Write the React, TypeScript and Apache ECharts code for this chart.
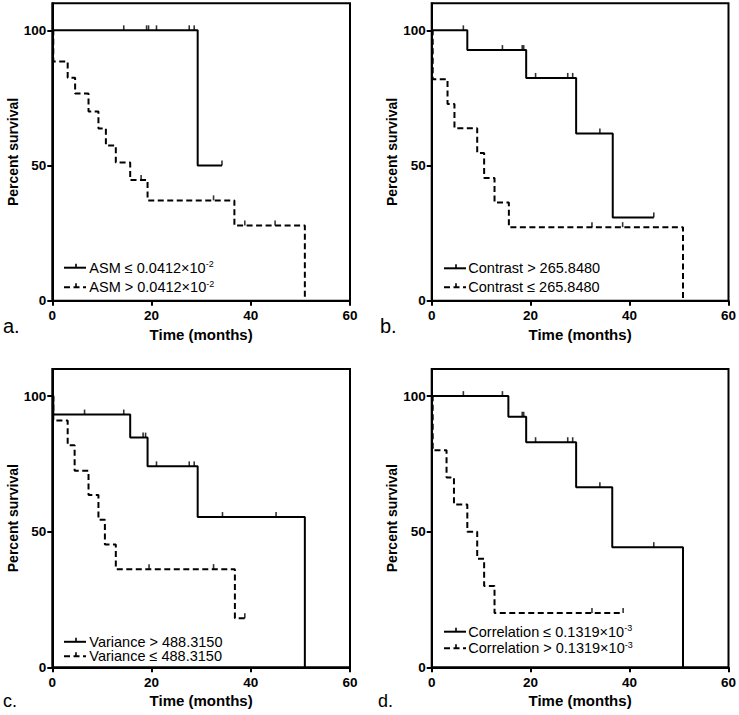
import React, { useEffect, useRef } from 'react';
import * as echarts from 'echarts';

// ---- Data (months, percent survival) ----
const xTicks = [0, 20, 40, 60];
const yTicks = [0, 50, 100];

// Panel a: ASM
const aLowT = [0, 29.3, 34.2];
const aLowS = [100, 50, 50];
const aLowCensor = [14.4, 19.0, 19.4, 21.0, 27.6, 28.6, 34.2];
const aHighT = [0, 0.2, 3.1, 4.6, 7.3, 9.3, 10.8, 12.8, 15.7, 19.2, 36.7, 50.9];
const aHighS = [100, 88.5, 82.5, 76.6, 70.0, 63.7, 57.4, 51.1, 44.6, 37.1, 27.8, 0];
const aHighCensor = [17.9, 32.5, 38.8, 44.9];

// Panel b: Contrast
const bHighT = [0, 7.2, 19.1, 29.2, 36.6, 44.9];
const bHighS = [100, 92.7, 82.4, 61.8, 30.8, 30.8];
const bHighCensor = [6.4, 14.3, 18.3, 18.6, 21.0, 27.5, 28.5, 34.0, 44.9];
const bLowT = [0, 0.2, 3.2, 4.6, 9.2, 10.6, 12.7, 15.6, 50.8];
const bLowS = [100, 81.9, 72.8, 63.8, 54.6, 45.4, 36.3, 27.2, 0];
const bLowCensor = [32.4, 38.6];

// Panel c: Variance
const cHighT = [0, 0.2, 15.7, 19.2, 29.3, 50.9];
const cHighS = [100, 93.2, 84.7, 74.1, 55.4, 0];
const cHighCensor = [6.5, 14.4, 18.3, 18.8, 21.0, 27.6, 28.6, 34.3, 45.1];
const cLowT = [0, 0.2, 3.1, 4.5, 7.3, 9.3, 10.6, 12.8, 36.8, 38.8];
const cLowS = [100, 91.0, 81.9, 72.5, 63.5, 54.4, 45.3, 36.2, 18.1, 18.1];
const cLowCensor = [19.5, 32.5, 38.8];

// Panel d: Correlation
const dLowT = [0, 15.5, 19.1, 29.2, 36.5, 50.8];
const dLowS = [100, 92.4, 83.0, 66.4, 44.3, 0];
const dLowCensor = [6.4, 14.3, 18.3, 18.6, 21.0, 27.5, 28.5, 34.0, 44.9];
const dHighT = [0, 0.2, 3.0, 4.5, 7.2, 9.2, 10.6, 12.7, 38.7];
const dHighS = [100, 80, 70, 60, 50, 40, 30, 20, 20];
const dHighCensor = [32.4, 38.7];

const legendA = ['{m|ASM ≤ 0.0412×10}{s|-2}', '{m|ASM > 0.0412×10}{s|-2}'];
const legendB = ['{m|Contrast > 265.8480}', '{m|Contrast ≤ 265.8480}'];
const legendC = ['{m|Variance > 488.3150}', '{m|Variance ≤ 488.3150}'];
const legendD = ['{m|Correlation ≤ 0.1319×10}{s|-3}', '{m|Correlation > 0.1319×10}{s|-3}'];
const panelLabels = ['a.', 'b.', 'c.', 'd.'];

// ---- Layout / style ----
const FONT = "'Liberation Sans', Arial, sans-serif";
const DASH = [6, 3.5];

const panels = [
  {
    grid: { left: 52.3, top: 3.3, width: 297.7, height: 297.4 },
    curves: [
      { t: aLowT, s: aLowS, c: aLowCensor, dash: false },
      { t: aHighT, s: aHighS, c: aHighCensor, dash: true },
    ],
    legend: legendA, lx: 64, ly: [267.7, 287.3], tx: 89.3, lh: 16,
    label: { x: 3, y: 326, size: 20 },
  },
  {
    grid: { left: 431.7, top: 3.3, width: 298.3, height: 297.4 },
    curves: [
      { t: bHighT, s: bHighS, c: bHighCensor, dash: false },
      { t: bLowT, s: bLowS, c: bLowCensor, dash: true },
    ],
    legend: legendB, lx: 444, ly: [268.3, 287.3], tx: 468.3, lh: 13,
    label: { x: 380, y: 326, size: 20 },
  },
  {
    grid: { left: 52.3, top: 369, width: 297.7, height: 298.3 },
    curves: [
      { t: cHighT, s: cHighS, c: cHighCensor, dash: false },
      { t: cLowT, s: cLowS, c: cLowCensor, dash: true },
    ],
    legend: legendC, lx: 64, ly: [641.8, 656.3], tx: 89.3, lh: 13,
    label: { x: 3, y: 701, size: 18 },
  },
  {
    grid: { left: 431.7, top: 369, width: 298.3, height: 298.3 },
    curves: [
      { t: dLowT, s: dLowS, c: dLowCensor, dash: false },
      { t: dHighT, s: dHighS, c: dHighCensor, dash: true },
    ],
    legend: legendD, lx: 444, ly: [631.7, 648.3], tx: 468.3, lh: 16,
    label: { x: 378, y: 701, size: 18 },
  },
];

function survAt(t: number[], s: number[], x: number): number {
  let v = s[0];
  for (let i = 0; i < t.length; i++) {
    if (t[i] <= x) v = s[i];
  }
  return v;
}

function buildOption() {
  const grids: any[] = [];
  const xAxes: any[] = [];
  const yAxes: any[] = [];
  const series: any[] = [];
  const graphics: any[] = [];

  panels.forEach((p, i) => {
    grids.push({
      ...p.grid,
      show: true,
      borderColor: '#000',
      borderWidth: 2,
      backgroundColor: 'transparent',
      containLabel: false,
    });
    xAxes.push({
      gridIndex: i,
      type: 'value',
      min: xTicks[0],
      max: xTicks[xTicks.length - 1],
      interval: xTicks[1] - xTicks[0],
      name: 'Time (months)',
      nameLocation: 'middle',
      nameGap: 26,
      nameTextStyle: { fontFamily: FONT, fontWeight: 'bold', fontSize: 15, color: '#000' },
      axisLine: { lineStyle: { color: '#000', width: 2 } },
      axisTick: { length: 5, lineStyle: { color: '#000', width: 2 } },
      axisLabel: { fontFamily: FONT, fontWeight: 'bold', fontSize: 13.5, color: '#000', margin: 8 },
      splitLine: { show: false },
    });
    yAxes.push({
      gridIndex: i,
      type: 'value',
      min: 0,
      max: 110,
      interval: 50,
      name: 'Percent survival',
      nameLocation: 'middle',
      nameGap: 26,
      nameTextStyle: { fontFamily: FONT, fontWeight: 'bold', fontSize: 14, color: '#000' },
      axisLine: { lineStyle: { color: '#000', width: 2 } },
      axisTick: { length: 5, customValues: yTicks, lineStyle: { color: '#000', width: 2 } },
      axisLabel: {
        customValues: yTicks,
        fontFamily: FONT, fontWeight: 'bold', fontSize: 13.5, color: '#000', margin: 6,
      },
      splitLine: { show: false },
    });

    p.curves.forEach((cv) => {
      series.push({
        type: 'line',
        xAxisIndex: i,
        yAxisIndex: i,
        step: 'end',
        symbol: 'none',
        silent: true,
        lineStyle: { color: '#000', width: 2, type: cv.dash ? DASH : 'solid' },
        data: cv.t.map((t, k) => [t, cv.s[k]]),
        z: 3,
      });
      series.push({
        type: 'scatter',
        xAxisIndex: i,
        yAxisIndex: i,
        symbol: 'rect',
        symbolSize: [1.6, 5],
        symbolOffset: [0, -2.5],
        silent: true,
        itemStyle: { color: '#000' },
        data: cv.c.map((t) => [t, survAt(cv.t, cv.s, t)]),
        z: 4,
      });
    });

    // legend
    p.legend.forEach((txt, r) => {
      const y = p.ly[r];
      const dashed = r === 1;
      graphics.push({
        type: 'line',
        shape: { x1: p.lx, y1: y, x2: p.lx + 22, y2: y },
        style: { stroke: '#000', lineWidth: 2, lineDash: dashed ? DASH : null },
        silent: true,
      });
      graphics.push({
        type: 'line',
        shape: { x1: p.lx + 12, y1: y - 4, x2: p.lx + 12, y2: y },
        style: { stroke: '#000', lineWidth: 1.6 },
        silent: true,
      });
      graphics.push({
        type: 'text',
        x: p.tx,
        y: y,
        silent: true,
        style: {
          text: txt,
          verticalAlign: 'middle',
          align: 'left',
          fill: '#000',
          rich: {
            m: { fontFamily: FONT, fontSize: 14.5, lineHeight: p.lh, fill: '#000' },
            s: { fontFamily: FONT, fontSize: 9, lineHeight: 9, verticalAlign: 'top', fill: '#000' },
          },
        },
      });
    });

    graphics.push({
      type: 'text',
      x: p.label.x,
      y: p.label.y,
      silent: true,
      style: {
        text: panelLabels[i],
        fontFamily: FONT,
        fontSize: p.label.size,
        fill: '#000',
        verticalAlign: 'middle',
        align: 'left',
      },
    });
  });

  return {
    animation: false,
    backgroundColor: '#fff',
    grid: grids,
    xAxis: xAxes,
    yAxis: yAxes,
    series,
    graphic: graphics,
  };
}

export default function App() {
  const ref = useRef<HTMLDivElement>(null);
  useEffect(() => {
    if (!ref.current) return;
    const chart = echarts.init(ref.current, undefined, { renderer: 'svg' });
    chart.setOption(buildOption() as any);
    return () => chart.dispose();
  }, []);
  return (
    <div
      ref={ref}
      style={{ position: 'absolute', left: 0, top: 0, width: 739, height: 715, background: '#fff' }}
    />
  );
}
